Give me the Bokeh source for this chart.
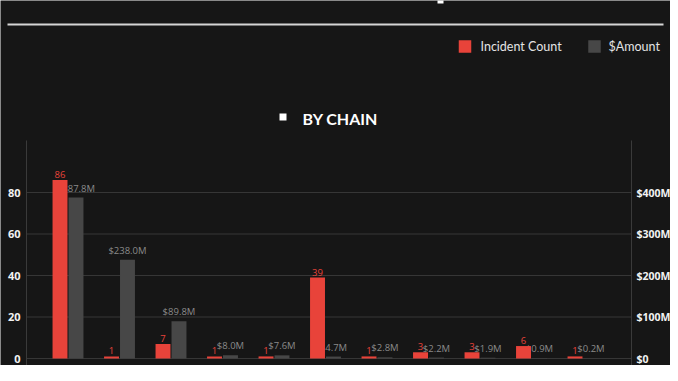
from bokeh.plotting import figure
from bokeh.models import Range1d, LinearAxis, FixedTicker, ColumnDataSource
from bokeh.core.properties import value
from bokeh.embed import file_html
from bokeh.resources import INLINE

# ---- data ----
incident_counts = [86, 1, 7, 1, 1, 39, 1, 3, 3, 6, 1]
amounts_musd = [387.8, 238.0, 89.8, 8.0, 7.6, 4.7, 2.8, 2.2, 1.9, 0.9, 0.2]
series_names = ["Incident Count", "$Amount"]
section_title = "BY CHAIN"
count_ticks = [0, 20, 40, 60, 80]
amount_ticks = [0, 100, 200, 300, 400]

# ---- style / layout constants ----
BG = "#161616"
RED = "#e8433a"
GREY = "#474747"
GRID = "#363636"
W, H = 670, 365
PX_X = 51.5             # pixels per category
FIRST_CENTER_PX = 67.5  # pixel position of first category centre
PX_Y = 2.075            # pixels per incident
ZERO_PX = 358           # pixel row of the zero line
CHART_TOP_PX = 140      # top of the plotting area
CHART_LEFT_PX, CHART_RIGHT_PX = 26, 631
AMT_RATIO = 5           # $M per incident-count unit on the right axis

n = len(incident_counts)
xs = list(range(n))
x_start = -FIRST_CENTER_PX / PX_X
x_end = x_start + W / PX_X
y_start = -(H - ZERO_PX) / PX_Y
y_end = y_start + H / PX_Y
plot_left = x_start + CHART_LEFT_PX / PX_X
plot_right = x_start + CHART_RIGHT_PX / PX_X
plot_top = (ZERO_PX - CHART_TOP_PX) / PX_Y

p = figure(width=W, height=H, output_backend="svg", toolbar_location=None,
           x_range=Range1d(x_start, x_end), y_range=Range1d(y_start, y_end),
           min_border=0)
p.extra_y_ranges = {"amt": Range1d(y_start * AMT_RATIO, y_end * AMT_RATIO),
                    "py": Range1d(H, 0)}
p.extra_x_ranges = {"px": Range1d(0, W)}
p.background_fill_color = BG
p.border_fill_color = BG
p.outline_line_color = None
p.xaxis.visible = False
p.grid.visible = False

left = p.yaxis[0]
left.ticker = FixedTicker(ticks=count_ticks)
left.fixed_location = plot_left
left.bounds = (y_start, plot_top)

right = LinearAxis(y_range_name="amt", ticker=FixedTicker(ticks=amount_ticks),
                   fixed_location=plot_right,
                   bounds=(y_start * AMT_RATIO, plot_top * AMT_RATIO))
right.major_label_overrides = {t: ("$0" if t == 0 else f"${t}M") for t in amount_ticks}
p.add_layout(right, "right")

for ax, standoff, size in ((left, 6, "11px"), (right, 5, "10.5px")):
    ax.axis_line_color = "#3a3a3a"
    ax.major_tick_line_color = None
    ax.minor_tick_line_color = None
    ax.major_tick_out = 0
    ax.minor_tick_out = 0
    ax.major_label_text_color = "#f2f2f2"
    ax.major_label_text_font = "Open Sans"
    ax.major_label_text_font_style = "bold"
    ax.major_label_text_font_size = size
    ax.major_label_standoff = standoff

# horizontal grid lines limited to the plotting area
p.segment(x0=[plot_left] * len(count_ticks), x1=[plot_right] * len(count_ticks),
          y0=count_ticks, y1=count_ticks, line_color=GRID, line_width=1)

src = ColumnDataSource(dict(
    xr=[x - 0.155 for x in xs], xg=[x + 0.155 for x in xs],
    cnt=incident_counts, amt=amounts_musd,
    cnt_lbl=[str(c) for c in incident_counts],
    amt_lbl=[f"${a:.1f}M" for a in amounts_musd],
))

p.vbar(x="xg", top="amt", bottom=0, width=0.29, source=src, y_range_name="amt",
       fill_color=GREY, line_color=None)
p.text(x="xg", y="amt", text="amt_lbl", source=src, y_range_name="amt",
       text_color="#8a8a8a", text_font=value("Open Sans"), text_font_size="9.5px",
       text_align="center", text_baseline="bottom", y_offset=-3)
p.vbar(x="xr", top="cnt", bottom=0, width=0.29, source=src,
       fill_color=RED, line_color=None)
p.text(x="xr", y="cnt", text="cnt_lbl", source=src,
       text_color=RED, text_font=value("Open Sans"), text_font_size="9.5px",
       text_align="center", text_baseline="bottom", y_offset=-2)

# ---- header: rule line, legend, section title (pixel ranges) ----
hdr = dict(x_range_name="px", y_range_name="py")
p.rect(x=[440], y=[0], width=6, height=6, fill_color="white", line_color=None, **hdr)
p.segment(x0=[7], y0=[24], x1=[663], y1=[24], line_color="#d6d6d6", line_width=2, **hdr)
p.rect(x=[464.5, 594], y=[46, 46], width=12.5, height=12.5,
       fill_color=[RED, GREY], line_color=None, **hdr)
p.text(x=[480, 608], y=[46, 46], text=series_names, text_color="#e4e4e4",
       text_font=value("Lato"), text_font_size="12.5px",
       text_align="left", text_baseline="middle", **hdr)
p.rect(x=[282.5], y=[116.5], width=7, height=7, fill_color="white", line_color=None, **hdr)
p.text(x=[302], y=[117.5], text=[section_title], text_color="white",
       text_font=value("Lato"), text_font_size="16px", text_font_style="bold",
       text_align="left", text_baseline="middle", **hdr)

html = file_html(p, INLINE)
html = html.replace("<body>", '<body style="background:#161616">', 1)
open("out.html", "w").write(html)
